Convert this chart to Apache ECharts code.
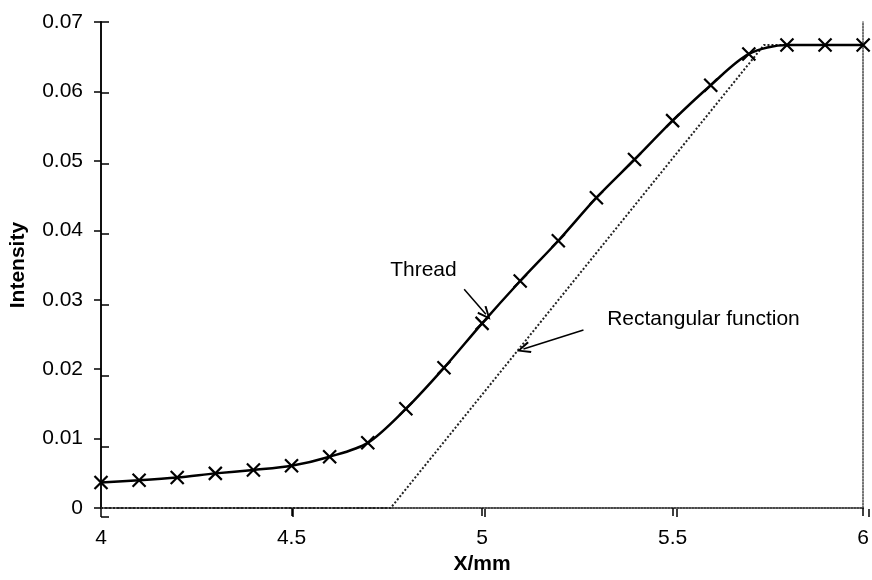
<!DOCTYPE html>
<html><head><meta charset="utf-8">
<script src="https://cdn.jsdelivr.net/npm/echarts@6/dist/echarts.min.js"></script>
<style>html,body{margin:0;padding:0;background:#fff;overflow:hidden}#c{width:872px;height:580px}</style>
</head><body><div id="c"></div>
<script>
const threadX = [4.0,4.1,4.2,4.3,4.4,4.5,4.6,4.7,4.8,4.9,5.0,5.1,5.2,5.3,5.4,5.5,5.6,5.7,5.8,5.9,6.0];
const threadY = [0.0037,0.0040,0.0044,0.0050,0.0055,0.0061,0.0074,0.0094,0.0143,0.0202,0.0266,0.0327,0.0385,0.0447,0.0502,0.0558,0.0609,0.0654,0.0667,0.0667,0.0667];
const rectX = [4.0,4.76,5.74,6.0];
const rectY = [0,0,0.0667,0.0667];
const xTicks = {min:4, max:6, interval:0.5};
const yTicks = {min:0, max:0.07, interval:0.01};
const notes = [
  {text:'Thread', at:[4.846,0.0342], from:[4.953,0.0315], to:[5.010,0.0279]},
  {text:'Rectangular function', at:[5.581,0.0272], from:[5.266,0.02565], to:[5.1086,0.0229]}
];

const font = 'Liberation Sans, Arial, sans-serif';
const chart = echarts.init(document.getElementById('c'));
const gridRect = {left:101, right:3, top:22, bottom:63};
const lbl = {color:'#000', fontSize:21, fontFamily:font};
const chevron = 'path://M5,0L10,10L8.5,10.8L5,3.2L1.5,10.8L0,10Z';
chart.setOption({
  animation:false,
  grid:[Object.assign({}, gridRect), Object.assign({}, gridRect)],
  xAxis:[
    {type:'value', gridIndex:0, position:'bottom', min:xTicks.min, max:xTicks.max, interval:xTicks.interval,
     name:'X/mm', nameLocation:'middle', nameGap:42,
     nameTextStyle:{color:'#000', fontSize:21, fontWeight:'bold', fontFamily:font},
     axisLine:{lineStyle:{color:'#222', width:1.5, type:'dotted'}},
     axisTick:{show:true, length:8, lineStyle:{color:'#000', width:1.5}},
     axisLabel:Object.assign({margin:20, formatter:v=>String(v)}, lbl),
     splitLine:{show:false}},
    {type:'value', gridIndex:0, position:'top', min:xTicks.min, max:xTicks.max, interval:xTicks.interval,
     axisLine:{lineStyle:{color:'#444', width:1.5, type:'dotted'}},
     axisTick:{show:false}, axisLabel:{show:false}, splitLine:{show:false}},
    {type:'value', gridIndex:1, position:'bottom', min:xTicks.min, max:xTicks.max, interval:xTicks.interval,
     axisLine:{show:false}, axisTick:{show:true, inside:true, length:8, lineStyle:{color:'#000', width:1.5}},
     axisLabel:{show:false}, splitLine:{show:false}}
  ],
  yAxis:[
    {type:'value', gridIndex:0, position:'left', min:yTicks.min, max:yTicks.max, interval:yTicks.interval,
     name:'Intensity', nameLocation:'middle', nameGap:72,
     nameTextStyle:{color:'#000', fontSize:21, fontWeight:'bold', fontFamily:font},
     axisLine:{lineStyle:{color:'#111', width:2}},
     axisTick:{show:true, length:7, lineStyle:{color:'#000', width:1.5}},
     axisLabel:Object.assign({margin:18, formatter:v=>v===0?'0':v.toFixed(2)}, lbl),
     splitLine:{show:false}},
    {type:'value', gridIndex:0, position:'right', min:yTicks.min, max:yTicks.max, interval:yTicks.interval,
     axisLine:{lineStyle:{color:'#444', width:1.5, type:'dotted'}},
     axisTick:{show:false}, axisLabel:{show:false}, splitLine:{show:false}},
    {type:'value', gridIndex:1, position:'left', min:yTicks.min, max:yTicks.max, interval:yTicks.interval,
     axisLine:{show:false}, axisTick:{show:true, inside:true, length:8, lineStyle:{color:'#000', width:1.5}},
     axisLabel:{show:false}, splitLine:{show:false}}
  ],
  series:[
    {type:'line', name:'Rectangular function', xAxisIndex:0, yAxisIndex:0,
     data:rectX.map((x,i)=>[x,rectY[i]]), showSymbol:false, symbol:'none',
     lineStyle:{color:'#222', width:2, type:'dotted'}, z:2,
     markLine:{silent:true, symbol:['none',chevron], symbolSize:[12,14],
       lineStyle:{color:'#000', width:1.5, type:'solid'}, label:{show:false},
       data:notes.map(n=>[{coord:n.from},{coord:n.to}])}},
    {type:'line', name:'Thread', xAxisIndex:0, yAxisIndex:0,
     data:threadX.map((x,i)=>[x,threadY[i]]), smooth:0.3,
     symbol:'path://M0,0L10,10M10,0L0,10', symbolSize:13, showAllSymbol:true,
     itemStyle:{color:'transparent', borderColor:'#000', borderWidth:2.2},
     lineStyle:{color:'#000', width:2.5}, z:3,
     markPoint:{silent:true, symbol:'circle', symbolSize:1, itemStyle:{color:'transparent'},
       label:{show:true, position:'inside', color:'#000', fontSize:21, fontFamily:font, formatter:p=>p.name},
       data:notes.map(n=>({name:n.text, coord:n.at}))}}
  ]
});
</script></body></html>
